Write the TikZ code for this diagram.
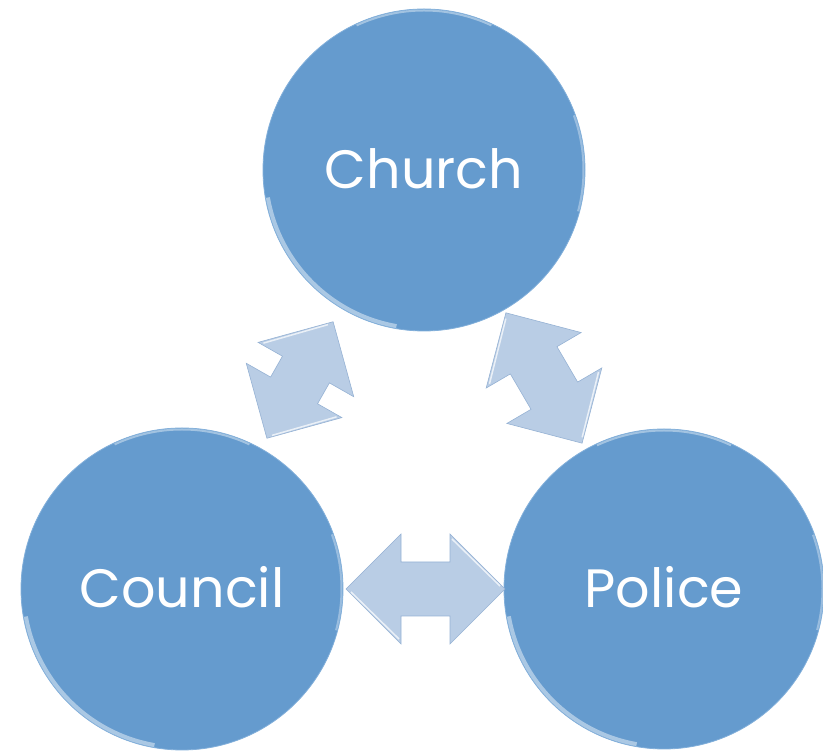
\documentclass[tikz,border=0pt]{standalone}
\usepackage{fontspec}
\setmainfont{Poppins}
\definecolor{circblue}{RGB}{101,155,206}
\definecolor{circedge}{RGB}{130,175,218}
\definecolor{arrblue}{RGB}{185,205,229}
\definecolor{arredge}{RGB}{150,178,212}
\tikzset{
  bubble/.style={circle, inner sep=0pt, fill=circblue, draw=circedge, line width=0.8pt,
    text=white, font=\fontsize{54}{58}\selectfont, text height=38pt, text depth=0pt},
  dblarrow/.pic={
    \fill[arrblue, draw=arredge, line width=0.6pt]
      (-\arrlen/2,0) -- (-\arrlen/2+55,55) -- (-\arrlen/2+55,27) -- (\arrlen/2-55,27)
      -- (\arrlen/2-55,55) -- (\arrlen/2,0) -- (\arrlen/2-55,-55) -- (\arrlen/2-55,-27)
      -- (-\arrlen/2+55,-27) -- (-\arrlen/2+55,-55) -- cycle;
    \draw[white, opacity=0.7, line width=1.5pt]
      (-\arrlen/2+5,-3) -- (-\arrlen/2+53,-50)
      (\arrlen/2-53,50) -- (\arrlen/2-5,3);
  }
}
\begin{document}
\begin{tikzpicture}[x=1pt,y=1pt]
\useasboundingbox (0,0) rectangle (823,752);
% circles
\node[bubble, minimum size=322pt] (church) at (424,582) {Church};
\node[bubble, minimum size=322pt] (council) at (182,163) {Council};
\node[bubble, minimum size=320pt] (police) at (664,163) {Police};
% bevel highlights
\foreach \c/\r in {church/161, council/161, police/160}{
  \draw[white, opacity=0.45, line width=4pt] (\c.center) ++(190:\r-2.5) arc[start angle=190, end angle=260, radius=\r-2.5];
  \draw[white, opacity=0.4, line width=2pt] (\c.center) ++(65:\r-1.5) arc[start angle=65, end angle=115, radius=\r-1.5];
  \draw[white, opacity=0.35, line width=2pt] (\c.center) ++(-15:\r-1.5) arc[start angle=-15, end angle=20, radius=\r-1.5];
}
% arrows
\def\arrlen{159}
\pic at (425.5,163) {dblarrow};
\def\arrlen{134}
\pic[rotate=60.4] at (300,372) {dblarrow};
\def\arrlen{151}
\pic[rotate=-59.7] at (544,374) {dblarrow};
\end{tikzpicture}
\end{document}
